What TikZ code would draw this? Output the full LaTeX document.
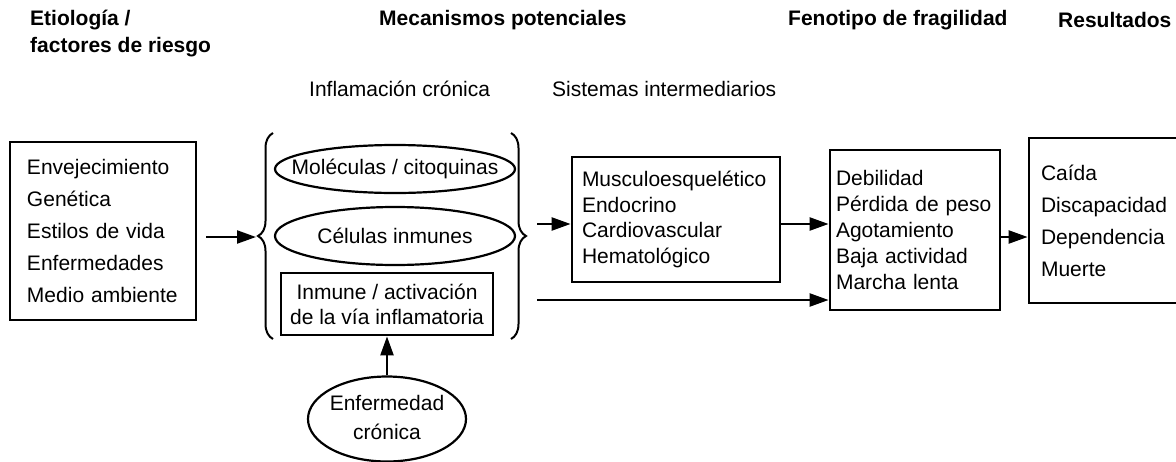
\documentclass[tikz,border=0pt]{standalone}
\usepackage{fontspec}
\setmainfont{Liberation Sans}
\usetikzlibrary{arrows.meta,shapes.geometric,decorations.pathreplacing}

\tikzset{
  box/.style={draw, line width=2.8pt, inner ysep=0pt, align=left},
  oval/.style={draw, ellipse, line width=2.2pt, inner sep=0pt},
  arr/.style={line width=2.3pt, -{Triangle[length=19pt,width=13pt]}},
  brc/.style={line width=2pt, decorate, decoration={brace, amplitude=15pt}},
  head/.style={font=\bfseries\fontsize{21}{25}\selectfont, anchor=west, inner sep=0pt},
  sub/.style={anchor=west, inner sep=0pt},
}

\begin{document}
\begin{tikzpicture}[x=1pt, y=-1pt, font=\fontsize{21}{25.5}\selectfont]
	\useasboundingbox (0,0) rectangle (1176,461);
	
	%headers
	\node[head] (hetiol) at (30,20) {Etiología /};
	\node[head] (hfact) at (30,47) {factores de riesgo};
	\node[head] (hmecan) at (379,20) {Mecanismos potenciales};
	\node[head] (hfeno) at (788,20) {Fenotipo de fragilidad};
	\node[head] (hresul) at (1058,20) {Resultados};
	\node[sub] (hinfl) at (309,89) {Inflamación crónica};
	\node[sub] (hsist) at (552,89) {Sistemas intermediarios};
	
	%boxes
	\node[box, text width=152pt, inner xsep=17pt, minimum height=178pt,
		font=\fontsize{21}{32}\selectfont] (etiol) at (103,231)
		{Envejecimiento\\Genética\\Estilos de vida\\Enfermedades\\Medio ambiente};
	\node[box, text width=188pt, inner xsep=10pt, minimum height=125pt,
		font=\fontsize{21}{25.7}\selectfont] (sistemas) at (676,219.5)
		{Musculoesquelético\\Endocrino\\Cardiovascular\\Hematológico};
	\node[box, text width=158pt, inner xsep=6pt, minimum height=160pt,
		font=\fontsize{21}{25.8}\selectfont] (fenotipo) at (915,230)
		{Debilidad\\Pérdida de peso\\Agotamiento\\Baja actividad\\Marcha lenta\par\vspace*{7pt}};
	\node[box, text width=141pt, inner xsep=12pt, minimum height=165pt,
		font=\fontsize{21}{32}\selectfont] (result) at (1111.5,220.5)
		{Caída\\Discapacidad\\Dependencia\\Muerte};
	
	%inflammation
	\node[oval, minimum width=240pt, minimum height=48pt] (molec) at (395,169)
		{\makebox[0pt]{Moléculas / citoquinas}};
	\node[oval, minimum width=240pt, minimum height=58pt] (celul) at (395,236)
		{\makebox[0pt]{Células inmunes}};
	\node[box, align=center, inner xsep=0pt, minimum width=212pt, minimum height=62pt,
		font=\fontsize{21}{25}\selectfont] (inmune) at (387,304)
		{Inmune / activación\\de la vía inflamatoria};
	\node[oval, minimum width=158pt, minimum height=85pt,
		font=\fontsize{21}{29}\selectfont] (enferm) at (387,419)
		{\makebox[0pt]{\begin{tabular}{@{}c@{}}Enfermedad\\crónica\end{tabular}}};
	
	\draw[brc] (273,339) -- (273,133);
	\draw[brc] (511,133) -- (511,339);
	\coordinate (lbrace) at (256,237);
	
	%arrows
	\coordinate (a0) at (206,237);
	\coordinate (s1) at (537,224);
	\coordinate (s2) at (537,300);
	\draw[arr] (a0) -- (lbrace);
	\draw[arr] (s1) -- (s1 -| sistemas.west);
	\draw[arr] (s2) -- (s2 -| fenotipo.west);
	\draw[arr] (sistemas.east |- s1) -- (s1 -| fenotipo.west);
	\draw[arr] (fenotipo.east |- lbrace) -- (lbrace -| result.west);
	\draw[arr] (enferm) -- (inmune);
\end{tikzpicture}
\end{document}
